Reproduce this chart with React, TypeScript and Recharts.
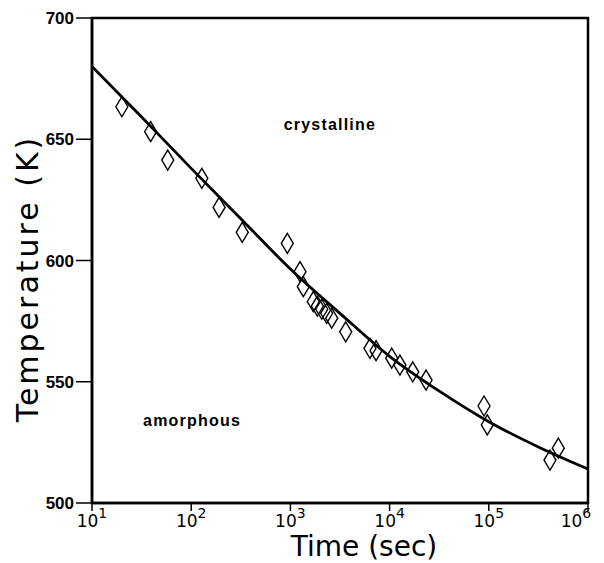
import {
  ComposedChart,
  Line,
  Scatter,
  XAxis,
  YAxis,
  ReferenceArea,
  ReferenceDot,
  Label,
} from "recharts";

// measured crystallization points: time (s) and temperature (K)
const pointTimes = [
  20, 39, 58, 128, 191, 327, 931, 1250, 1350, 1700, 1870, 2070, 2320, 2610,
  3610, 6340, 7300, 10500, 12700, 17100, 23300, 89500, 96600, 414000, 502000,
];
const pointTemps = [
  663.4, 653.1, 641.4, 633.9, 621.9, 611.6, 607.1, 595.4, 589.2, 583.0, 581.2,
  579.9, 578.2, 576.2, 570.6, 563.8, 562.8, 559.7, 556.9, 554.1, 550.7, 540.0,
  532.2, 517.7, 522.6,
];

// fitted boundary curve
const fitTimes = [10, 32, 100, 320, 1000, 3200, 10000, 32000, 100000, 320000, 1000000];
const fitTemps = [680, 659, 638, 617, 596.5, 578, 560.5, 546, 533.5, 523, 514];

const xTicks = [10, 100, 1000, 10000, 100000, 1000000];
const yTicks = [500, 550, 600, 650, 700];

const points = pointTimes.map((t, i) => ({ time: t, temp: pointTemps[i] }));
const fit = fitTimes.map((t, i) => ({ time: t, temp: fitTemps[i] }));

const LETTERING = "'DejaVu Sans', sans-serif";

const Diamond = (props: any) => {
  const { cx, cy } = props;
  const w = 6;
  const h = 10;
  return (
    <path
      d={`M${cx},${cy - h} L${cx + w},${cy} L${cx},${cy + h} L${cx - w},${cy} Z`}
      fill="none"
      stroke="#000"
      strokeWidth={1.4}
    />
  );
};

const PowerTick = (props: any) => {
  const { x, y, payload } = props;
  const exp = Math.round(Math.log10(payload.value));
  return (
    <text x={x} y={y + 14} textAnchor="middle" fill="#000" fontFamily={LETTERING} fontSize={17}>
      <tspan>10</tspan>
      <tspan dy={-9} fontSize={14}>
        {exp}
      </tspan>
    </text>
  );
};

const TempTick = (props: any) => {
  const { x, y, payload } = props;
  return (
    <text
      x={x}
      y={y}
      dy={6}
      textAnchor="end"
      fill="#000"
      fontFamily="'Liberation Sans', Arial, sans-serif"
      fontWeight="bold"
      fontSize={17}
    >
      {payload.value}
    </text>
  );
};

const regionLabel = (text: string) => (p: any) => {
  const { viewBox } = p;
  return (
    <text
      x={viewBox.cx ?? viewBox.x}
      y={viewBox.cy ?? viewBox.y}
      dy={5}
      textAnchor="middle"
      fill="#000"
      fontFamily="'Liberation Sans', Arial, sans-serif"
      fontWeight="bold"
      fontSize={16}
      letterSpacing={1.2}
    >
      {text}
    </text>
  );
};

// axis titles sit under / beside the tick labels, slightly off-centre
const TimeTitle = (p: any) => {
  const { viewBox } = p;
  return (
    <text
      x={viewBox.x + viewBox.width / 2 + 24}
      y={viewBox.y + 53}
      textAnchor="middle"
      fill="#000"
      fontFamily={LETTERING}
      fontSize={28}
    >
      Time (sec)
    </text>
  );
};

const TempTitle = (p: any) => {
  const { viewBox } = p;
  const cx = 38;
  const cy = viewBox.y + viewBox.height / 2 + 18;
  return (
    <text
      x={cx}
      y={cy}
      transform={`rotate(-90 ${cx} ${cy})`}
      textAnchor="middle"
      fill="#000"
      fontFamily={LETTERING}
      fontSize={30}
      letterSpacing={3}
    >
      Temperature (K)
    </text>
  );
};

export default function App() {
  return (
    <div style={{ position: "absolute", left: 0, top: 0, background: "#fff" }}>
      <ComposedChart
        width={604}
        height={563}
        data={fit}
        margin={{ top: 18, right: 16, bottom: 0, left: 0 }}
      >
        <XAxis
          dataKey="time"
          type="number"
          scale="log"
          domain={[10, 1000000]}
          ticks={xTicks}
          allowDataOverflow
          height={60}
          axisLine={{ stroke: "#000", strokeWidth: 2.5 }}
          tickLine={{ stroke: "#000", strokeWidth: 1.5 }}
          tickSize={8}
          tick={<PowerTick />}
        >
          <Label content={TimeTitle} />
        </XAxis>
        <YAxis
          type="number"
          domain={[500, 700]}
          ticks={yTicks}
          width={92}
          axisLine={{ stroke: "#000", strokeWidth: 2.5 }}
          tickLine={{ stroke: "#000", strokeWidth: 1.5 }}
          tickSize={16}
          tick={<TempTick />}
        >
          <Label content={TempTitle} />
        </YAxis>
        <ReferenceArea
          x1={10}
          x2={1000000}
          y1={500}
          y2={700}
          fill="none"
          stroke="#000"
          strokeWidth={2.5}
          ifOverflow="visible"
        />
        <Line
          dataKey="temp"
          type="monotone"
          stroke="#000"
          strokeWidth={2.8}
          dot={false}
          activeDot={false}
          isAnimationActive={false}
        />
        <Scatter data={points} dataKey="temp" shape={<Diamond />} isAnimationActive={false} />
        <ReferenceDot x={2500} y={656} r={0} fill="none" stroke="none" label={regionLabel("crystalline")} />
        <ReferenceDot x={102} y={534} r={0} fill="none" stroke="none" label={regionLabel("amorphous")} />
      </ComposedChart>
    </div>
  );
}
